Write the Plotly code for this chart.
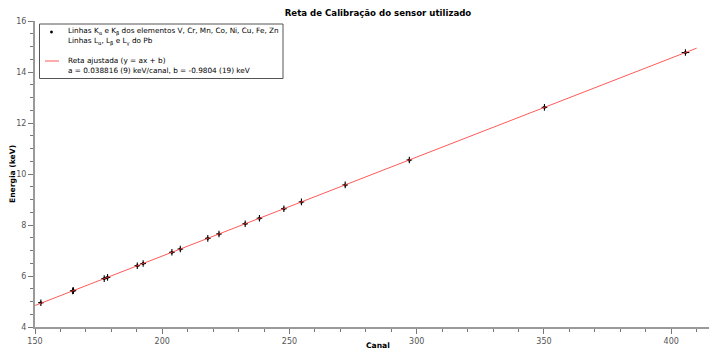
import plotly.graph_objects as go

# Data
canal = [152.3, 164.8, 165.1, 177.2, 178.5, 190.2, 192.5, 203.8, 207.1,
         217.9, 222.3, 232.6, 238.2, 247.8, 254.7, 271.9, 297.1, 350.2, 405.6]
energia = [4.952, 5.415, 5.427, 5.899, 5.947, 6.404, 6.490, 6.930, 7.058,
           7.478, 7.649, 8.048, 8.265, 8.639, 8.905, 9.572, 10.551, 12.614, 14.764]
err_canal = [1.1] * 18 + [1.5]
err_energia = [0.13] * 19

a_fit = 0.038816
b_fit = -0.9804
fit_x = [150, 410]
fit_y = [a_fit * x + b_fit for x in fit_x]

title_text = "Reta de Calibração do sensor utilizado"
x_title = "Canal"
y_title = "Energia (keV)"
legend_lines = [
    "Linhas K<sub>α</sub> e K<sub>β</sub> dos elementos V, Cr, Mn, Co, Ni, Cu, Fe, Zn",
    "Linhas L<sub>α</sub>, L<sub>β</sub> e L<sub>γ</sub> do Pb",
    "Reta ajustada (y = ax + b)",
    "a = 0.038816 (9) keV/canal, b = -0.9804 (19) keV",
]

# page body has an 8 px margin: size the figure to the visible window
OFF = 8
WIN_W, WIN_H = 717, 350
W, H = WIN_W - OFF, WIN_H - OFF
# plot area in window pixels
PL, PT, PR, PB = 35, 21, 717, 327
L, T = PL - OFF, PT - OFF
R, B = WIN_W - PR, WIN_H - PB
PW, PH = PR - PL, PB - PT


def px(xw):
    return (xw - PL) / PW


def py(yw):
    return (PB - yw) / PH


font_family = "DejaVu Sans"
fit_color = "rgba(255,60,60,0.85)"

fig = go.Figure()
fig.add_trace(go.Scatter(
    x=canal, y=energia, mode="markers", name="pontos", showlegend=False,
    marker=dict(color="black", size=3),
    error_x=dict(type="data", array=err_canal, color="black", thickness=1.1, width=0),
    error_y=dict(type="data", array=err_energia, color="black", thickness=1.1, width=0),
))
fig.add_trace(go.Scatter(
    x=fit_x, y=fit_y, mode="lines", name="ajuste", showlegend=False,
    line=dict(color=fit_color, width=1),
))

shapes = [
    dict(type="rect", xref="paper", yref="paper",
         x0=px(39.5), x1=px(283), y0=py(78.5), y1=py(24),
         line=dict(color="#555", width=1), fillcolor="white", layer="above"),
    dict(type="circle", xref="paper", yref="paper",
         x0=px(50.3), x1=px(52.7), y0=py(33.2), y1=py(30.8),
         line=dict(color="black", width=0.5), fillcolor="black", layer="above"),
    dict(type="line", xref="paper", yref="paper",
         x0=px(45), x1=px(59), y0=py(61), y1=py(61),
         line=dict(color=fit_color, width=1), layer="above"),
]

annotations = []
for txt, yy in zip(legend_lines, [31.5, 41.5, 61, 71]):
    annotations.append(dict(
        text=txt, xref="paper", yref="paper", x=px(66), y=py(yy),
        xanchor="left", yanchor="middle", showarrow=False,
        font=dict(family=font_family, size=7.3, color="black"),
    ))
annotations.append(dict(
    text="<b>" + x_title + "</b>", xref="paper", yref="paper",
    x=px(378), y=py(345), xanchor="center", yanchor="middle", showarrow=False,
    font=dict(family=font_family, size=7.6, color="black"),
))
annotations.append(dict(
    text="<b>" + y_title + "</b>", xref="paper", yref="paper",
    x=px(12), y=py(174), xanchor="center", yanchor="middle", showarrow=False,
    textangle=-90, font=dict(family=font_family, size=7.6, color="black"),
))

axis_common = dict(
    showline=True, linecolor="#9a9a9a", linewidth=2, showgrid=False, zeroline=False,
    ticks="outside", ticklen=5, tickwidth=1, tickcolor="#777", automargin=False,
    tickfont=dict(family=font_family, size=8, color="#555"),
)
fig.update_layout(
    width=W, height=H,
    margin=dict(l=L, r=R, t=T, b=B, pad=0),
    paper_bgcolor="white", plot_bgcolor="white",
    font=dict(family=font_family, size=8, color="black"),
    title=dict(text="<b>" + title_text + "</b>", xref="paper", x=px(378),
               xanchor="center", yref="container", y=1 - 2.0 / H,
               yanchor="top", font=dict(family=font_family, size=8.6)),
    showlegend=False,
    shapes=shapes,
    annotations=annotations,
)
fig.update_xaxes(
    range=[150, 418], dtick=50, tick0=150,
    minor=dict(dtick=10, ticks="outside", ticklen=3, tickcolor="#777"),
    **axis_common,
)
fig.update_yaxes(
    range=[4, 16], dtick=2, tick0=4,
    minor=dict(dtick=0.5, ticks="outside", ticklen=3, tickcolor="#777"),
    **axis_common,
)

fig.write_html("out.html")
